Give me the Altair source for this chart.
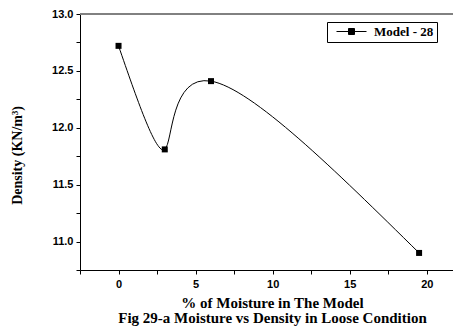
import altair as alt
import pandas as pd

moisture = [0, 3, 6, 19.5]
density = [12.72, 11.81, 12.41, 10.90]
series = ["Model - 28"] * 4

y_ticks = [10.75, 11.0, 11.25, 11.5, 11.75, 12.0, 12.25, 12.5, 12.75, 13.0]
x_ticks = [-2.5, 0, 2.5, 5, 7.5, 10, 12.5, 15, 17.5, 20]

df = pd.DataFrame({"x": moisture, "y": density, "s": series})

xs = alt.Scale(domain=[-2.5, 21.7], nice=False, zero=False)
ys = alt.Scale(domain=[10.75, 13.0], nice=False, zero=False)

x_axis = alt.Axis(
    values=x_ticks, tickCount=30,
    labelExpr="abs(datum.value / 5 - round(datum.value / 5)) < 0.001 ? format(datum.value, 'd') : ''",
    title=["% of Moisture in The Model", "Fig 29-a Moisture vs Density in Loose Condition"],
    grid=False, domainColor="black", tickColor="black", tickSize=4,
    labelFont="Liberation Sans", labelFontWeight="bold", labelFontSize=11, labelColor="black",
    labelPadding=4, labelOverlap=False,
    titleFont="Liberation Serif", titleFontWeight="bold", titleFontSize=15, titleColor="black",
    titlePadding=6, titleLineHeight=15, titleX=192, titleAlign="center",
)
y_axis = alt.Axis(
    values=y_ticks, tickCount=30,
    labelExpr="abs(datum.value * 2 - round(datum.value * 2)) < 0.001 ? format(datum.value, '.1f') : ''",
    title="Density (KN/m³)",
    grid=False, domainColor="black", tickColor="black", tickSize=4,
    labelFont="Liberation Sans", labelFontWeight="bold", labelFontSize=11, labelColor="black",
    labelPadding=3, labelOverlap=False, labelFlush=False,
    titleFont="Liberation Serif", titleFontWeight="bold", titleFontSize=14, titleColor="black",
    titleX=-63, titleY=141, titleBaseline="middle", titleAngle=-90, titleAlign="center",
)

base = alt.Chart(df)

line = base.mark_line(interpolate="natural", color="black", strokeWidth=1).encode(
    x=alt.X("x:Q", scale=xs, axis=x_axis),
    y=alt.Y("y:Q", scale=ys, axis=y_axis),
)

points = base.mark_point(shape="square", filled=True, size=36, opacity=1).encode(
    x=alt.X("x:Q", scale=xs),
    y=alt.Y("y:Q", scale=ys),
    color=alt.Color(
        "s:N",
        scale=alt.Scale(range=["black"]),
        legend=alt.Legend(
            title=None, orient="none", legendX=247, legendY=8,
            symbolType="M-3,0H3M-0.6,-0.6H0.6V0.6H-0.6Z",
            symbolSize=100, symbolStrokeColor="black", symbolStrokeWidth=1,
            symbolFillColor="black", symbolOffset=15,
            labelFont="Liberation Serif", labelFontWeight="bold", labelFontSize=13,
            labelColor="black", labelOffset=16,
            strokeColor="black", fillColor="white", padding=3,
        ),
    ),
)

# top frame line of the plot area
top = alt.Chart(df).mark_rule(color="#808080", strokeWidth=1.5).encode(
    y=alt.value(0), x=alt.value(0), x2=alt.value(381)
)

chart = alt.layer(line, points, top).properties(
    width=373, height=256,
    autosize=alt.AutoSizeParams(type="none"),
    padding={"left": 72, "top": 6, "right": 0, "bottom": 56},
).configure_view(stroke=None)

chart.save("out.html", embed_options={"renderer": "svg", "actions": False})
